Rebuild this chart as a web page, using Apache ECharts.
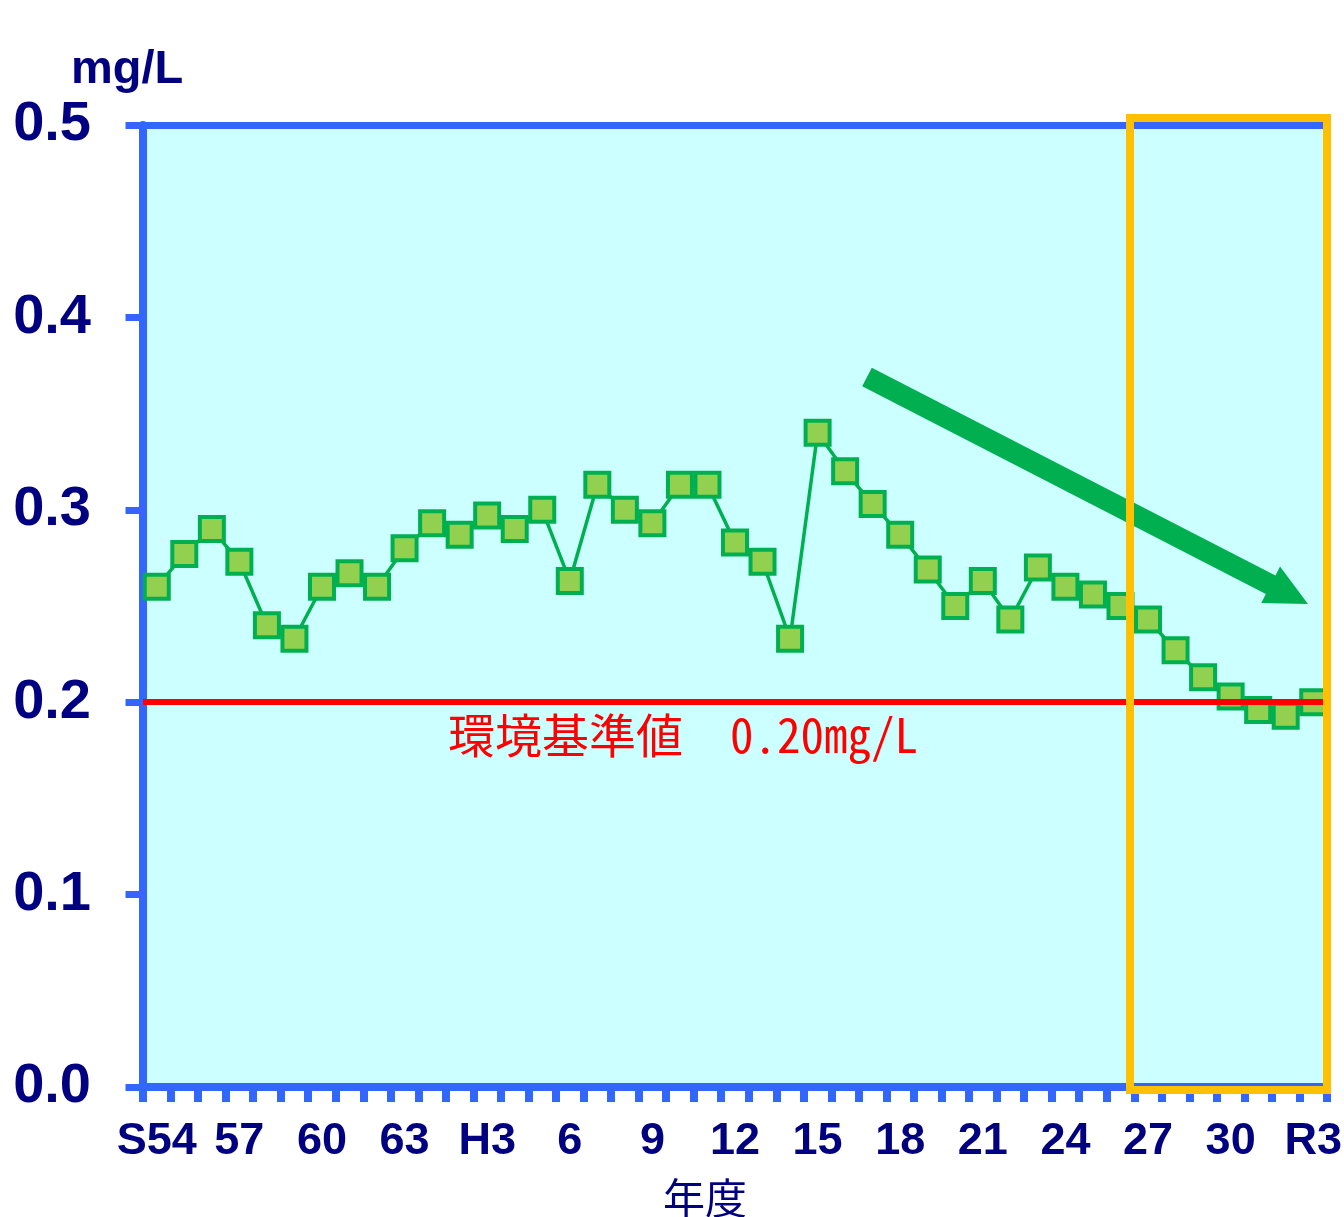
<!DOCTYPE html>
<html>
<head>
<meta charset="utf-8">
<script src="https://cdn.jsdelivr.net/npm/echarts@6/dist/echarts.min.js"></script>
<style>
  html, body { margin: 0; padding: 0; background: #ffffff; overflow: hidden; }
  #chart { width: 1344px; height: 1217px; }
</style>
</head>
<body>
<div id="chart"></div>
<script>
// Fiscal years S54 (1979) to R3 (2021)
const years = [
  'S54','S55','S56','S57','S58','S59','S60','S61','S62','S63',
  'H1','H2','H3','H4','H5','H6','H7','H8','H9','H10',
  'H11','H12','H13','H14','H15','H16','H17','H18','H19','H20',
  'H21','H22','H23','H24','H25','H26','H27','H28','H29','H30',
  'R1','R2','R3'
];

// Annual mean concentration (mg/L)
const concentration = [
  0.260, 0.277, 0.290, 0.273, 0.240, 0.233, 0.260, 0.267, 0.260, 0.280,
  0.293, 0.287, 0.297, 0.290, 0.300, 0.263, 0.313, 0.300, 0.293, 0.313,
  0.313, 0.283, 0.273, 0.233, 0.340, 0.320, 0.303, 0.287, 0.269, 0.250,
  0.263, 0.243, 0.270, 0.260, 0.256, 0.250, 0.243, 0.227, 0.213, 0.203,
  0.196, 0.193, 0.200
];

// Labels shown on every third year
const xTickLabels = ['S54','57','60','63','H3','6','9','12','15','18','21','24','27','30','R3'];
const yTickLabels = ['0.0','0.1','0.2','0.3','0.4','0.5'];

// Environmental standard
const standardValue = 0.20;
const standardText = '環境基準値　' + standardValue.toFixed(2) + 'mg/L';

const BLUE = '#3366FF';
const NAVY = '#000080';
const SANS = "'Liberation Sans', Arial, sans-serif";

const chart = echarts.init(document.getElementById('chart'), null, { renderer: 'canvas' });

// Downward trend arrow (pixel layout)
function arrowPoints(sx, sy, tx, ty, shaftW, headW, headL) {
  const dx = tx - sx, dy = ty - sy;
  const len = Math.sqrt(dx * dx + dy * dy);
  const ux = dx / len, uy = dy / len;
  const nx = -uy, ny = ux;
  const bx = tx - ux * headL, by = ty - uy * headL;
  const hs = shaftW / 2, hh = headW / 2;
  return [
    [sx + nx * hs, sy + ny * hs],
    [bx + nx * hs, by + ny * hs],
    [bx + nx * hh, by + ny * hh],
    [tx, ty],
    [bx - nx * hh, by - ny * hh],
    [bx - nx * hs, by - ny * hs],
    [sx - nx * hs, sy - ny * hs]
  ];
}

const option = {
  animation: false,
  title: {
    text: 'mg/L',
    left: 71,
    top: 47,
    padding: 0,
    textStyle: { fontSize: 47, fontWeight: 'bold', color: NAVY, fontFamily: SANS }
  },
  grid: {
    left: 143, width: 1184, top: 125, height: 962,
    outerBoundsMode: 'none',
    show: true, backgroundColor: '#CCFFFF', borderWidth: 0
  },
  xAxis: [
    {
      type: 'category',
      data: years,
      boundaryGap: true,
      axisLine: { show: true, lineStyle: { color: BLUE, width: 8 } },
      axisTick: { show: true, interval: 0, length: 15, lineStyle: { color: BLUE, width: 8 } },
      axisLabel: {
        interval: 0,
        margin: 32,
        fontSize: 45,
        fontWeight: 'bold',
        color: NAVY,
        fontFamily: SANS,
        formatter: function (v, i) { return i % 3 === 0 ? xTickLabels[i / 3] : ''; }
      },
      name: '年度',
      nameLocation: 'middle',
      nameGap: 90,
      nameTextStyle: {
        fontSize: 42, color: NAVY, fontFamily: "'Noto Sans CJK JP', sans-serif",
        padding: [0, 60, 0, 0]
      }
    },
    {
      type: 'category',
      data: years,
      position: 'top',
      axisLine: { show: true, lineStyle: { color: BLUE, width: 7 } },
      axisTick: { show: false },
      axisLabel: { show: false }
    }
  ],
  yAxis: {
    type: 'value',
    min: 0,
    max: 0.5,
    interval: 0.1,
    axisLine: { show: true, lineStyle: { color: BLUE, width: 8 } },
    axisTick: { show: true, length: 17.5, lineStyle: { color: BLUE, width: 7 } },
    splitLine: { show: false },
    axisLabel: {
      margin: 52,
      fontSize: 56,
      fontWeight: 'bold',
      color: NAVY,
      fontFamily: SANS,
      formatter: function (v) { return yTickLabels[Math.round(v * 10)]; }
    }
  },
  series: [
    {
      type: 'line',
      data: concentration,
      z: 3,
      symbol: 'rect',
      symbolSize: 24,
      showAllSymbol: true,
      lineStyle: { color: '#00B050', width: 3.5 },
      itemStyle: { color: '#92D050', borderColor: '#00B050', borderWidth: 4 }
    },
    {
      type: 'line',
      data: [],
      z: 5,
      markLine: {
        silent: true,
        symbol: 'none',
        lineStyle: { color: '#FF0000', width: 6, type: 'solid' },
        label: {
          show: true,
          position: 'insideStartBottom',
          distance: [305, 9],
          formatter: standardText,
          color: '#FF0000',
          fontSize: 47,
          fontFamily: "'Noto Sans Mono CJK JP', 'Noto Sans CJK JP', monospace"
        },
        data: [{ yAxis: standardValue }]
      }
    }
  ],
  graphic: [
    {
      type: 'polygon',
      z: 8,
      shape: { points: arrowPoints(867, 377, 1308, 604, 21, 41, 42) },
      style: { fill: '#00B050' }
    },
    {
      type: 'rect',
      z: 20,
      shape: { x: 1130, y: 118, width: 197, height: 972 },
      style: { fill: 'none', stroke: '#FFC000', lineWidth: 8 }
    }
  ]
};

chart.setOption(option);
</script>
</body>
</html>
